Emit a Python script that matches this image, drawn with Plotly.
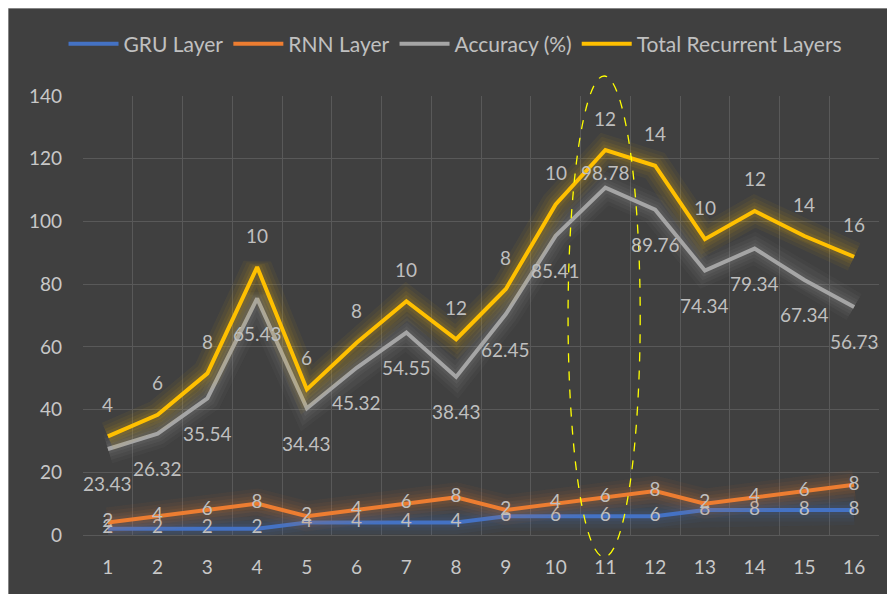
import plotly.graph_objects as go

# ---------------- data ----------------
epochs = list(range(1, 17))
tick_labels = [str(i) for i in epochs]
gru_layers = [2, 2, 2, 2, 4, 4, 4, 4, 6, 6, 6, 6, 8, 8, 8, 8]
rnn_layers = [2, 4, 6, 8, 2, 4, 6, 8, 2, 4, 6, 8, 2, 4, 6, 8]
accuracy = [23.43, 26.32, 35.54, 65.43, 34.43, 45.32, 54.55, 38.43,
            62.45, 85.41, 98.78, 89.76, 74.34, 79.34, 67.34, 56.73]
total_layers = [4, 6, 8, 10, 6, 8, 10, 12, 8, 10, 12, 14, 10, 12, 14, 16]

series_names = ["GRU Layer", "RNN Layer", "Accuracy (%)", "Total Recurrent Layers"]
series_values = [gru_layers, rnn_layers, accuracy, total_layers]

# ---------------- styles ----------------
colors = ["#4472C4", "#ED7D31", "#A5A5A5", "#FFC000"]
glow_rgb = ["68,114,196", "237,125,49", "165,165,165", "255,192,0"]
FONT = "Lato, Carlito, Calibri, sans-serif"
LABEL_COLOR = "#bfbfbf"
BG = "#404040"
GRID = "#595959"

W, H = 895, 594
ML, MT = 75, 88
PW, PH = 796, 439
MR, MB = W - ML - PW, H - MT - PH

# stacked line chart (cumulative sums)
stacked = []
run = [0.0] * len(epochs)
for vals in series_values:
    run = [a + b for a, b in zip(run, vals)]
    stacked.append(run)

fig = go.Figure()

for i, name in enumerate(series_names):
    ys = stacked[i]
    # soft glow under each line
    for w, a in [(30, 0.05), (23, 0.06), (16, 0.07), (10, 0.09)]:
        fig.add_trace(go.Scatter(
            x=epochs, y=ys, mode="lines",
            line=dict(color=f"rgba({glow_rgb[i]},{a})", width=w),
            showlegend=False, hoverinfo="skip"))
    if i < 2:
        fig.add_trace(go.Scatter(
            x=epochs, y=ys, name=name, mode="lines+text",
            line=dict(color=colors[i], width=4),
            text=[str(v) for v in series_values[i]],
            textposition="middle center",
            textfont=dict(family=FONT, size=19, color=LABEL_COLOR)))
    else:
        fig.add_trace(go.Scatter(
            x=epochs, y=ys, name=name, mode="lines",
            line=dict(color=colors[i], width=4)))

# data labels for accuracy (below, except point 11 above) and total (above)
acc_above = {11}
annotations = []
for x, y, v in zip(epochs, stacked[2], accuracy):
    annotations.append(dict(
        x=x, y=y, xref="x", yref="y", text=f"{v:.2f}", showarrow=False,
        xanchor="center", yanchor="middle",
        yshift=15 if x in acc_above else -35,
        font=dict(family=FONT, size=19, color=LABEL_COLOR)))
for x, y, v in zip(epochs, stacked[3], total_layers):
    annotations.append(dict(
        x=x, y=y, xref="x", yref="y", text=str(v), showarrow=False,
        xanchor="center", yanchor="middle", yshift=32,
        font=dict(family=FONT, size=19, color=LABEL_COLOR)))

shapes = [
    # thin light border around the chart
    dict(type="rect", xref="paper", yref="paper",
         x0=-ML / PW, x1=(W - ML) / PW, y0=-MB / PH, y1=(H - MB) / PH,
         line=dict(color="#c8c8c8", width=1), fillcolor="rgba(0,0,0,0)",
         layer="below"),
    # highlight ellipse around epoch 11
    dict(type="circle", xref="x", yref="paper",
         x0=10.25, x1=11.70, y0=-0.050, y1=1.0456,
         line=dict(color="#FFFF00", width=1.3, dash="dash"),
         fillcolor="rgba(0,0,0,0)", layer="above"),
]

fig.update_layout(
    width=W, height=H,
    margin=dict(l=ML, r=MR, t=MT, b=MB),
    paper_bgcolor=BG,
    plot_bgcolor=BG,
    font=dict(family=FONT, size=19, color="#c8c8c8"),
    showlegend=True,
    legend=dict(orientation="h", x=0.468, xanchor="center",
                y=1.118, yanchor="middle",
                font=dict(family=FONT, size=21, color="#c0c0c0"),
                bgcolor="rgba(0,0,0,0)", itemwidth=50,
                tracegroupgap=0),
    annotations=annotations,
    shapes=shapes,
)

fig.update_xaxes(
    range=[0.5, 16.5], tickmode="array", tickvals=epochs, ticktext=tick_labels,
    showgrid=False, zeroline=False, showline=False, ticks="",
    ticklabelstandoff=19,
    tickfont=dict(family=FONT, size=19, color="#c8c8c8"),
    minor=dict(tickmode="array", tickvals=[k + 0.5 for k in range(0, 17)],
               showgrid=True, gridcolor=GRID, gridwidth=1, ticks=""),
)
fig.update_yaxes(
    range=[0, 140], dtick=20, tick0=0,
    showgrid=True, gridcolor=GRID, gridwidth=1,
    zeroline=True, zerolinecolor=GRID, zerolinewidth=1,
    showline=False, ticks="", ticklabelstandoff=20,
    tickfont=dict(family=FONT, size=19, color="#c8c8c8"),
)

fig.write_html("out.html")
